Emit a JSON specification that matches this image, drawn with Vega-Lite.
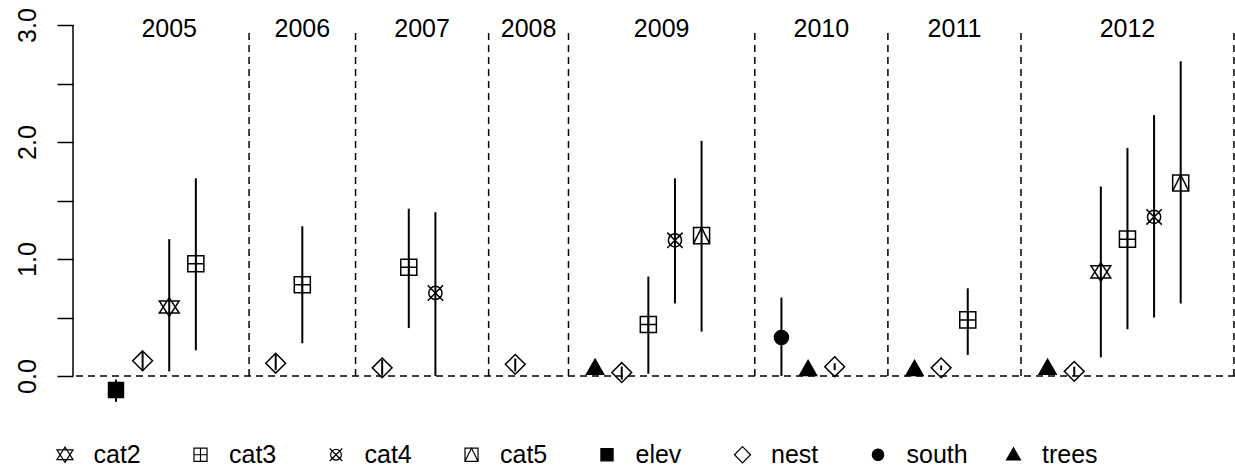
{
  "$schema": "https://vega.github.io/schema/vega-lite/v6.json",
  "autosize": {"type": "none"},
  "padding": {"left": 73, "top": 25, "right": 0, "bottom": 53},
  "width": 1162,
  "height": 392,
  "background": "white",
  "config": {
    "view": {"stroke": null},
    "font": "Liberation Sans",
    "legend": {
      "orient": "none",
      "legendX": -20.5,
      "legendY": 417,
      "direction": "horizontal",
      "columns": 8,
      "gridAlign": "all",
      "symbolSize": 320,
      "symbolStrokeColor": "black",
      "symbolStrokeWidth": 1.2,
      "labelFontSize": 25,
      "labelFont": "Liberation Sans",
      "labelColor": "black",
      "labelOffset": 16,
      "columnPadding": 32.5,
      "labelLimit": 0,
      "padding": 0
    }
  },
  "datasets": {
    "pts": [
      {"year": "2005", "var": "elev", "x": 0, "est": -0.12, "lo": -0.22, "hi": -0.03},
      {"year": "2005", "var": "nest", "x": 1, "est": 0.13, "lo": 0.05, "hi": 0.21},
      {"year": "2005", "var": "cat2", "x": 2, "est": 0.59, "lo": 0.04, "hi": 1.17},
      {"year": "2005", "var": "cat3", "x": 3, "est": 0.96, "lo": 0.22, "hi": 1.69},
      {"year": "2006", "var": "nest", "x": 6, "est": 0.11, "lo": 0.05, "hi": 0.19},
      {"year": "2006", "var": "cat3", "x": 7, "est": 0.78, "lo": 0.28, "hi": 1.28},
      {"year": "2007", "var": "nest", "x": 10, "est": 0.07, "lo": 0.01, "hi": 0.14},
      {"year": "2007", "var": "cat3", "x": 11, "est": 0.93, "lo": 0.41, "hi": 1.43},
      {"year": "2007", "var": "cat4", "x": 12, "est": 0.71, "lo": 0.0, "hi": 1.4},
      {"year": "2008", "var": "nest", "x": 15, "est": 0.1, "lo": 0.04, "hi": 0.15},
      {"year": "2009", "var": "trees", "x": 18, "est": 0.07, "lo": 0.05, "hi": 0.09},
      {"year": "2009", "var": "nest", "x": 19, "est": 0.03, "lo": -0.03, "hi": 0.08},
      {"year": "2009", "var": "cat3", "x": 20, "est": 0.44, "lo": 0.02, "hi": 0.85},
      {"year": "2009", "var": "cat4", "x": 21, "est": 1.16, "lo": 0.62, "hi": 1.69},
      {"year": "2009", "var": "cat5", "x": 22, "est": 1.2, "lo": 0.38, "hi": 2.01},
      {"year": "2010", "var": "south", "x": 25, "est": 0.33, "lo": 0.0, "hi": 0.67},
      {"year": "2010", "var": "trees", "x": 26, "est": 0.06, "lo": 0.04, "hi": 0.08},
      {"year": "2010", "var": "nest", "x": 27, "est": 0.08, "lo": 0.05, "hi": 0.11},
      {"year": "2011", "var": "trees", "x": 30, "est": 0.06, "lo": 0.04, "hi": 0.08},
      {"year": "2011", "var": "nest", "x": 31, "est": 0.07, "lo": 0.05, "hi": 0.09},
      {"year": "2011", "var": "cat3", "x": 32, "est": 0.48, "lo": 0.18, "hi": 0.75},
      {"year": "2012", "var": "trees", "x": 35, "est": 0.07, "lo": 0.05, "hi": 0.09},
      {"year": "2012", "var": "nest", "x": 36, "est": 0.04, "lo": 0.0, "hi": 0.08},
      {"year": "2012", "var": "cat2", "x": 37, "est": 0.89, "lo": 0.16, "hi": 1.62},
      {"year": "2012", "var": "cat3", "x": 38, "est": 1.17, "lo": 0.4, "hi": 1.95},
      {"year": "2012", "var": "cat4", "x": 39, "est": 1.36, "lo": 0.5, "hi": 2.23},
      {"year": "2012", "var": "cat5", "x": 40, "est": 1.65, "lo": 0.62, "hi": 2.69}
    ],
    "seps": [{"x": 5}, {"x": 9}, {"x": 14}, {"x": 17}, {"x": 24}, {"x": 29}, {"x": 34}, {"x": 42}],
    "years": [
      {"year": "2005", "x": 2},
      {"year": "2006", "x": 7},
      {"year": "2007", "x": 11.5},
      {"year": "2008", "x": 15.5},
      {"year": "2009", "x": 20.5},
      {"year": "2010", "x": 26.5},
      {"year": "2011", "x": 31.5},
      {"year": "2012", "x": 38}
    ]
  },
  "layer": [
    {
      "data": {"name": "pts"},
      "mark": {"type": "rule", "color": "black", "strokeWidth": 2},
      "encoding": {
        "x": {"field": "x", "type": "quantitative", "scale": {"domain": [-1.615, 42.04], "nice": false, "zero": false}, "axis": null},
        "y": {"field": "lo", "type": "quantitative", "scale": {"domain": [-0.35, 3], "nice": false, "zero": false},
          "axis": {
            "title": null,
            "domain": false,
            "grid": false,
            "values": [0, 0.5, 1, 1.5, 2, 2.5, 3],
            "tickSize": 16,
            "tickColor": "black",
            "tickWidth": 1.5,
            "labelExpr": "datum.value % 1 === 0 ? format(datum.value, '.1f') : ''",
            "labelAngle": -90,
            "labelAlign": "center",
            "labelBaseline": "alphabetic",
            "labelPadding": 22,
            "labelFontSize": 25,
            "labelFont": "Liberation Sans",
            "labelColor": "black",
            "labelOverlap": false,
            "labelFlush": false,
            "labelBound": false
          }
        },
        "y2": {"field": "hi"}
      }
    },
    {
      "data": {"name": "seps"},
      "mark": {"type": "rule", "color": "black", "strokeWidth": 1.5, "strokeDash": [7, 5]},
      "encoding": {
        "x": {"field": "x", "type": "quantitative"},
        "y": {"datum": 0, "type": "quantitative"},
        "y2": {"datum": 2.95}
      }
    },
    {
      "data": {"values": [{}]},
      "mark": {"type": "rule", "color": "black", "strokeWidth": 1.5, "strokeDash": [7, 5]},
      "encoding": {
        "y": {"datum": 0, "type": "quantitative"}
      }
    },
    {
      "data": {"values": [{}]},
      "mark": {"type": "rule", "color": "black", "strokeWidth": 1.5},
      "encoding": {
        "x": {"datum": -1.615, "type": "quantitative"},
        "y": {"datum": 0, "type": "quantitative"},
        "y2": {"datum": 3}
      }
    },
    {
      "data": {"name": "pts"},
      "mark": {"type": "point", "strokeWidth": 1.5, "opacity": 1, "size": 484},
      "encoding": {
        "x": {"field": "x", "type": "quantitative"},
        "y": {"field": "est", "type": "quantitative"},
        "shape": {
          "field": "var", "type": "nominal",
          "scale": {
            "domain": ["cat2", "cat3", "cat4", "cat5", "elev", "nest", "south", "trees"],
            "range": [
              "M0,-0.85L0.9,0.55L-0.9,0.55Z M0,0.85L0.9,-0.55L-0.9,-0.55Z",
              "M-0.73,-0.73H0.73V0.73H-0.73Z M0,-0.73V0.73 M-0.73,0H0.73",
              "M0.6,0A0.6,0.6 0 1,1 -0.6,0A0.6,0.6 0 1,1 0.6,0Z M-0.7,-0.7L0.7,0.7 M-0.7,0.7L0.7,-0.7",
              "M-0.73,-0.73H0.73V0.73H-0.73Z M-0.73,0.73L0,-0.73L0.73,0.73",
              "M-0.68,-0.68H0.68V0.68H-0.68Z",
              "M0,-0.9L0.9,0L0,0.9L-0.9,0Z",
              "M0.64,0A0.64,0.64 0 1,1 -0.64,0A0.64,0.64 0 1,1 0.64,0Z",
              "M0,-0.78L0.78,0.58L-0.78,0.58Z"
            ]
          },
          "legend": {"title": null}
        },
        "fill": {
          "field": "var", "type": "nominal",
          "scale": {
            "domain": ["cat2", "cat3", "cat4", "cat5", "elev", "nest", "south", "trees"],
            "range": ["transparent", "transparent", "transparent", "transparent", "black", "transparent", "black", "black"]
          },
          "legend": {"title": null}
        },
        "stroke": {
          "field": "var", "type": "nominal",
          "scale": {
            "domain": ["cat2", "cat3", "cat4", "cat5", "elev", "nest", "south", "trees"],
            "range": ["black", "black", "black", "black", "black", "black", "black", "black"]
          },
          "legend": {"title": null}
        }
      }
    },
    {
      "data": {"name": "years"},
      "mark": {"type": "text", "fontSize": 25, "font": "Liberation Sans", "color": "black", "baseline": "middle", "align": "center"},
      "encoding": {
        "x": {"field": "x", "type": "quantitative"},
        "y": {"datum": 2.97, "type": "quantitative"},
        "text": {"field": "year"}
      }
    }
  ]
}
